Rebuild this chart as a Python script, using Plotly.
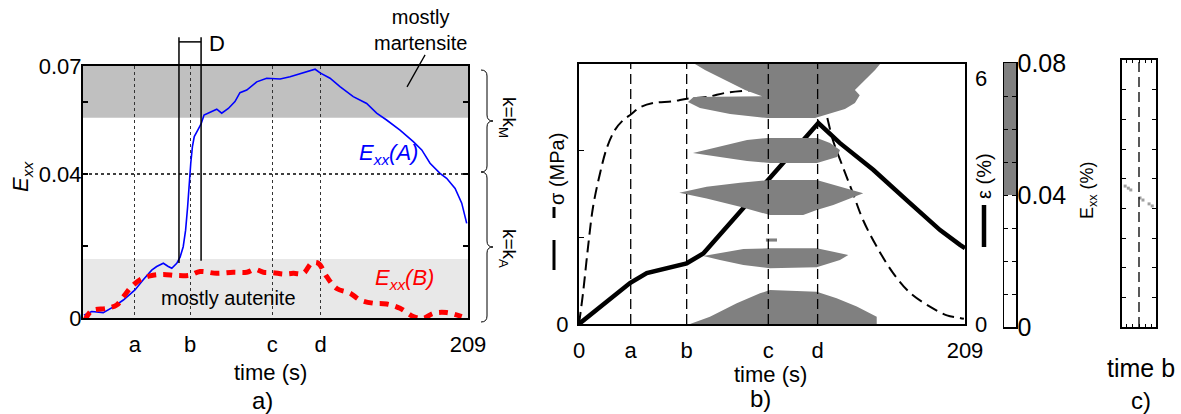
import plotly.graph_objects as go

W, H = 1181, 414

# ---------------- data: panel a ----------------
t_A = [0.5, 4.7, 11.0, 16.5, 21.9, 28.2, 32.7, 37.3, 40.0, 43.6, 46.3, 48.2, 50.9, 52.7,
       54.4, 55.7, 56.8, 57.7, 58.5, 59.4, 60.4, 62.3, 64.1, 65.7, 68.0, 72.6, 75.3, 78.9,
       82.5, 85.2, 88.9, 94.3, 99.7, 107.0, 112.4, 117.8, 123.2, 126.0, 128.7, 134.1, 139.5,
       146.7, 154.0, 159.4, 164.8, 172.1, 179.3, 183.9, 188.4, 193.8, 197.4, 202.0, 205.6, 208.3]
E_A = [0.0008, 0.0018, 0.0015, 0.0031, 0.0050, 0.0078, 0.0106, 0.0133, 0.0143, 0.0152,
       0.0143, 0.0138, 0.0152, 0.0169, 0.0198, 0.0244, 0.0309, 0.0383, 0.0430, 0.0476,
       0.0504, 0.0522, 0.0539, 0.0564, 0.0570, 0.0580, 0.0569, 0.0582, 0.0601, 0.0626,
       0.0633, 0.0656, 0.0666, 0.0664, 0.0670, 0.0678, 0.0687, 0.0691, 0.0681, 0.0666,
       0.0643, 0.0615, 0.0596, 0.0569, 0.0550, 0.0522, 0.0490, 0.0467, 0.0430, 0.0402,
       0.0388, 0.0360, 0.0319, 0.0263]
t_B = [1.1, 4.7, 12.9, 18.3, 21.9, 26.4, 30.9, 36.4, 43.6, 50.9, 58.1, 63.5, 72.6, 81.6,
       88.9, 93.4, 97.9, 103.3, 108.7, 114.2, 119.6, 124.1, 127.7, 132.3, 137.7, 145.0,
       150.4, 157.6, 164.9, 172.1, 179.3, 184.7, 190.2, 197.4, 205.6]
E_B = [-0.0006, 0.0020, 0.0027, 0.0036, 0.0059, 0.0087, 0.0106, 0.0117, 0.0121, 0.0118,
       0.0119, 0.0129, 0.0124, 0.0127, 0.0127, 0.0135, 0.0127, 0.0126, 0.0122, 0.0124,
       0.0124, 0.0152, 0.0152, 0.0115, 0.0082, 0.0069, 0.0050, 0.0041, 0.0039, 0.0027,
       0.0004, -0.0001, 0.0013, 0.0015, 0.0004]
T_END = 209
events_a = [28.2, 58.1, 102.8, 129.0]
event_labels = ["a", "b", "c", "d"]
E_MAX = 0.07
E_tickvals = [0, 0.02, 0.04, 0.06, 0.07]
E_ticktext = ["0", "", "0.04", "", "0.07"]
E_THRESHOLD = 0.04
martensite_band = [0.0556, 0.07]
austenite_band = [0.0, 0.0164]
D_window = [52.1, 64.1]
D_bottoms = [0.0153, 0.0159]
D_top = 0.078
D_bar = 0.0767

# ---------------- data: panel b ----------------
t_sig = [0, 2.2, 4.9, 7.6, 11.4, 15.2, 19.5, 23.8, 28.2, 33.0, 40.1, 50.9, 58.5, 69.3, 80.1,
         94.2, 102.3, 112.6, 123.4, 128.9, 130.5, 134.3, 137.5, 142.9, 148.3, 153.8, 161.3,
         170.0, 179.2, 190.0, 199.2, 206.3, 208.4]
sig = [0, 36, 89, 135, 174, 204, 224, 235, 242, 250, 255, 257, 260, 262, 267, 270, 272, 276,
       279, 280, 270, 239, 212, 181, 151, 120, 89, 59, 36, 20, 10, 7, 6]
t_eps = [0, 27.6, 36.7, 58.3, 67.3, 80.0, 90.8, 103.4, 116.0, 129.6, 141.3, 159.3, 177.4,
         195.5, 206.3, 209]
eps = [0, 1.0, 1.24, 1.48, 1.72, 2.37, 2.94, 3.59, 4.24, 4.90, 4.41, 3.76, 3.02, 2.29, 1.93, 1.85]
events_b = [28.0, 58.3, 102.5, 129.2]
SIG_MAX = 300
EPS_MAX = 6.34
# regions where Exx > 0.04 (time, normalised position along the specimen)
band1_t = [62.8, 163.0, 160.3, 154.8, 149.4, 152.0, 149.4, 144.0, 135.9, 127.8, 102.3, 81.8,
           65.5, 59.0, 62.0, 99.1, 89.9, 79.0, 68.2]
band1_p = [1.0, 1.0, 0.977, 0.938, 0.9, 0.88, 0.85, 0.827, 0.808, 0.792, 0.792, 0.808,
           0.831, 0.854, 0.873, 0.876, 0.9, 0.938, 0.977]
band2_t = [61.7, 80.1, 91.0, 101.8, 128.9, 135.9, 141.3, 139.7, 128.9, 103.4, 91.0, 76.3]
band2_p = [0.658, 0.688, 0.708, 0.715, 0.715, 0.696, 0.669, 0.642, 0.619, 0.619, 0.627, 0.642]
band3_t = [54.3, 69.1, 87.2, 103.4, 128.7, 137.7, 153.9, 146.7, 137.7, 128.7, 121.4, 103.4, 87.2, 69.1]
band3_p = [0.505, 0.528, 0.543, 0.554, 0.554, 0.535, 0.503, 0.483, 0.458, 0.438, 0.419, 0.419, 0.451, 0.483]
band_small_t = [101.2, 107.2, 107.2, 101.2]
band_small_p = [0.329, 0.329, 0.317, 0.317]
band4_t = [67.3, 80.0, 89.0, 103.4, 128.7, 137.7, 145.8, 141.3, 128.7, 103.4, 89.0, 76.3]
band4_p = [0.262, 0.278, 0.288, 0.291, 0.291, 0.278, 0.265, 0.246, 0.218, 0.214, 0.227, 0.246]
band5_t = [60.1, 70.9, 85.4, 98.0, 103.4, 128.7, 139.5, 150.4, 161.2, 161.2]
band5_p = [0.0, 0.028, 0.080, 0.118, 0.131, 0.124, 0.099, 0.067, 0.028, 0.0]
bands = [(band1_t, band1_p), (band2_t, band2_p), (band3_t, band3_p),
         (band_small_t, band_small_p), (band4_t, band4_p), (band5_t, band5_p)]

# colour scale
cbar_levels = [0.02, 0.06]
cbar_ticks = [0, 0.04, 0.08]
cbar_ticktext = ["0", "0.04", "0.08"]

# ---------------- data: panel c ----------------
c_x = [-2.2, -1.7, -1.3, 0.16, 0.63, 1.6, 2.1]
c_y = [4.75, 4.68, 4.62, 4.35, 4.28, 4.15, 4.08]

# ---------------- layout helpers ----------------
def px(x):
    return x / W

def py(y):
    return 1 - y / H

A_X = [83, 468]; A_Y = [66, 318]
B_X = [579, 965]; B_Y = [64, 324]
CB_X = [1004, 1016]; CB_Y = [63, 327]
C_X = [1122, 1156]; C_Y = [60, 327]

def a_yp(E):
    lo, hi = py(A_Y[1]), py(A_Y[0])
    return lo + E / E_MAX * (hi - lo)

FONT = "Liberation Sans, Arial, Helvetica, sans-serif"
fig = go.Figure()

# panel a traces
fig.add_trace(go.Scatter(x=t_A, y=E_A, mode="lines", line=dict(color="#0000ff", width=1.6),
                         xaxis="x", yaxis="y", hoverinfo="skip"))
fig.add_trace(go.Scatter(x=t_B, y=E_B, mode="lines",
                         line=dict(color="#ff0000", width=5, dash="9px,7px", shape="spline"),
                         xaxis="x", yaxis="y", hoverinfo="skip"))

# panel b traces
for bt, bp in bands:
    fig.add_trace(go.Scatter(x=bt, y=bp, mode="lines", fill="toself", fillcolor="#808080",
                             line=dict(width=0, color="#808080"), xaxis="x2", yaxis="y4",
                             hoverinfo="skip"))
fig.add_trace(go.Scatter(x=t_sig, y=sig, mode="lines",
                         line=dict(color="black", width=2, dash="12px,6px", shape="spline"),
                         xaxis="x2", yaxis="y2", hoverinfo="skip"))
fig.add_trace(go.Scatter(x=t_eps, y=eps, mode="lines", line=dict(color="black", width=4.5),
                         xaxis="x2", yaxis="y3", hoverinfo="skip"))

# colour bar
fig.add_trace(go.Heatmap(x=[0.5], y=cbar_levels, z=[[cbar_levels[0]], [cbar_levels[1]]],
                         zmin=0, zmax=0.08, showscale=False, xaxis="x3", yaxis="y5",
                         colorscale=[[0, "white"], [0.5, "white"], [0.5, "#808080"], [1, "#808080"]],
                         hoverinfo="skip"))

# panel c
fig.add_trace(go.Scatter(x=c_x, y=c_y, mode="markers",
                         marker=dict(symbol="square", size=3, color="#a0a0a0"),
                         xaxis="x4", yaxis="y6", hoverinfo="skip"))

shapes = []
# panel a shading
shapes.append(dict(type="rect", xref="x", yref="y", x0=0, x1=T_END, y0=martensite_band[0],
                   y1=martensite_band[1], fillcolor="#c0c0c0", line=dict(width=0), layer="below"))
shapes.append(dict(type="rect", xref="x", yref="y", x0=0, x1=T_END, y0=austenite_band[0],
                   y1=austenite_band[1], fillcolor="#e8e8e8", line=dict(width=0), layer="below"))
shapes.append(dict(type="line", xref="x", yref="y", x0=0, x1=T_END, y0=E_THRESHOLD, y1=E_THRESHOLD,
                   line=dict(color="black", width=1.3, dash="dot"), layer="above"))
# D window
for xv, yb in zip(D_window, D_bottoms):
    shapes.append(dict(type="line", xref="x", yref="paper", x0=xv, x1=xv, y0=a_yp(yb), y1=a_yp(D_top),
                       line=dict(color="black", width=1.5)))
shapes.append(dict(type="line", xref="x", yref="paper", x0=D_window[0], x1=D_window[1],
                   y0=a_yp(D_bar), y1=a_yp(D_bar), line=dict(color="black", width=1.5)))
# pointer to martensite label
shapes.append(dict(type="line", xref="x", yref="paper", x0=185.7, x1=175.9, y0=a_yp(0.0731),
                   y1=a_yp(0.0642), line=dict(color="black", width=1.3)))

# braces
def brace(x, y0, y1, d=6):
    ym = (y0 + y1) / 2
    pts = [
        f"M {px(x-d)} {py(y0)}",
        f"Q {px(x)} {py(y0)} {px(x)} {py(y0+d)}",
        f"L {px(x)} {py(ym-d)}",
        f"Q {px(x)} {py(ym)} {px(x+d)} {py(ym)}",
        f"Q {px(x)} {py(ym)} {px(x)} {py(ym+d)}",
        f"L {px(x)} {py(y1-d)}",
        f"Q {px(x)} {py(y1)} {px(x-d)} {py(y1)}",
    ]
    return " ".join(pts)

shapes.append(dict(type="path", xref="paper", yref="paper", path=brace(487, 70, 172),
                   line=dict(color="black", width=1)))
shapes.append(dict(type="path", xref="paper", yref="paper", path=brace(487, 172, 322),
                   line=dict(color="black", width=1)))

# panel b event lines
for xv in events_b:
    shapes.append(dict(type="line", xref="x2", yref="y2 domain", x0=xv, x1=xv, y0=0, y1=1,
                       line=dict(color="black", width=1.3, dash="10px,5px"), layer="above"))
# legend marks beside axis titles
shapes.append(dict(type="line", xref="paper", yref="paper", x0=px(554), x1=px(554), y0=py(207), y1=py(218),
                   line=dict(color="black", width=3)))
shapes.append(dict(type="line", xref="paper", yref="paper", x0=px(554), x1=px(554), y0=py(240), y1=py(270),
                   line=dict(color="black", width=3)))
shapes.append(dict(type="line", xref="paper", yref="paper", x0=px(984), x1=px(984), y0=py(205), y1=py(247),
                   line=dict(color="black", width=4.5)))
# panel c dashed line
shapes.append(dict(type="line", xref="x4", yref="y6 domain", x0=0, x1=0, y0=0, y1=1,
                   line=dict(color="black", width=1.3, dash="10px,5px"), layer="above"))

ann = []
def note(text, x, y, size=20, color="black", angle=0, **kw):
    ann.append(dict(text=text, x=px(x), y=py(y), xref="paper", yref="paper", showarrow=False,
                    font=dict(size=size, color=color, family=FONT), textangle=angle,
                    xanchor="center", yanchor="middle", **kw))

note("mostly<br>martensite", 420, 30, 20)
note("D", 217, 43, 22)
note("<i>E<sub>xx</sub>(A)</i>", 388, 154, 22, "#0000ff")
note("<i>E<sub>xx</sub>(B)</i>", 404, 279, 22, "#ff0000")
note("mostly autenite", 228, 298, 20)
note("<i>E<sub>xx</sub></i>", 22, 177, 22, angle=-90)
note("k=k<sub>M</sub>", 508, 117, 19, angle=90)
note("k=k<sub>A</sub>", 508, 248, 19, angle=90)
note("time (s)", 270, 372, 22)
note("a)", 262, 400, 24)
note("time (s)", 770, 374, 22)
note("b)", 760, 398, 24)
note("σ (MPa)", 557, 169, 20, angle=-90)
note("ε (%)", 984, 176, 20, angle=-90)
note("E<sub>xx</sub> (%)", 1088, 190, 18, angle=-90)
note("time b", 1141, 368, 25)
note("c)", 1141, 400, 24)

TF = dict(size=22, family=FONT, color="black")

fig.update_layout(
    template="none",
    width=W, height=H, margin=dict(l=0, r=0, t=0, b=0, pad=0, autoexpand=False),
    paper_bgcolor="white", plot_bgcolor="white", showlegend=False,
    font=dict(family=FONT, color="black"),
    shapes=shapes, annotations=ann,
    xaxis=dict(domain=[px(A_X[0]), px(A_X[1])], anchor="y", range=[0, T_END], automargin=False,
               tickvals=events_a + [T_END], ticktext=event_labels + [str(T_END)], ticks="",
               showline=True, linecolor="black", linewidth=2, mirror=True, zeroline=False,
               ticklabelstandoff=6, tickfont=TF,
               showgrid=True, gridcolor="#333333", griddash="dot", gridwidth=1),
    yaxis=dict(domain=[py(A_Y[1]), py(A_Y[0])], anchor="x", range=[0, E_MAX], automargin=False,
               tickvals=E_tickvals, ticktext=E_ticktext, ticks="inside", ticklen=5, tickwidth=1.5,
               tickcolor="black", showline=True, linecolor="black", linewidth=2, mirror="ticks",
               zeroline=False, showgrid=False, ticklabelstandoff=-5, tickfont=TF),
    xaxis2=dict(domain=[px(B_X[0]), px(B_X[1])], anchor="y2", range=[0, T_END], automargin=False,
                tickvals=[0] + events_b + [T_END], ticktext=["0"] + event_labels + [str(T_END)],
                ticks="", showline=True, linecolor="black", linewidth=2, mirror=True,
                zeroline=False, showgrid=False, ticklabelstandoff=6, tickfont=TF),
    yaxis2=dict(domain=[py(B_Y[1]), py(B_Y[0])], anchor="x2", range=[0, SIG_MAX], automargin=False,
                tickvals=[0, 100, 200], ticktext=["0", "", ""], ticks="inside", ticklen=5,
                tickwidth=1.5, tickcolor="black", showline=True, linecolor="black", linewidth=2,
                mirror=True, zeroline=False, showgrid=False, ticklabelstandoff=4, tickfont=TF),
    yaxis3=dict(overlaying="y2", anchor="x2", side="right", range=[0, EPS_MAX], automargin=False,
                tickvals=[0, 6], ticktext=["0", "6"], ticks="", showline=False, zeroline=False,
                showgrid=False, ticklabelstandoff=9, tickfont=TF),
    yaxis4=dict(overlaying="y2", anchor="x2", range=[0, 1], visible=False, automargin=False),
    xaxis3=dict(domain=[px(CB_X[0]), px(CB_X[1])], anchor="y5", range=[0, 1], showticklabels=False,
                ticks="", showline=True, linecolor="black", linewidth=1.5, mirror=True,
                zeroline=False, showgrid=False, automargin=False),
    yaxis5=dict(domain=[py(CB_Y[1]), py(CB_Y[0])], anchor="x3", side="right", range=[0, 0.08],
                tickvals=cbar_ticks, ticktext=cbar_ticktext, ticks="inside", ticklen=4, mirror="ticks",
                tickcolor="black", linewidth=1.5, showline=True, linecolor="black", zeroline=False,
                showgrid=False, automargin=False,
                minor=dict(dtick=0.01, ticks="inside", ticklen=4, tickcolor="black"),
                ticklabelstandoff=-5, tickfont=dict(size=25, family=FONT, color="black")),
    xaxis4=dict(domain=[px(C_X[0]), px(C_X[1])], anchor="y6", range=[-2.7, 2.7], dtick=1,
                ticks="inside", ticklen=3, tickcolor="black", mirror="ticks", showticklabels=False,
                showline=True, linecolor="black", linewidth=2, zeroline=False, showgrid=False,
                automargin=False),
    yaxis6=dict(domain=[py(C_Y[1]), py(C_Y[0])], anchor="x4", range=[0, 9], dtick=1,
                ticks="inside", ticklen=4, tickcolor="black", mirror="ticks", showticklabels=False,
                showline=True, linecolor="black", linewidth=2, zeroline=False, showgrid=False,
                automargin=False),
)

fig.write_html("out.html", config={"displayModeBar": False, "staticPlot": True},
               post_script="document.body.style.margin='0';document.body.style.overflow='hidden';")
